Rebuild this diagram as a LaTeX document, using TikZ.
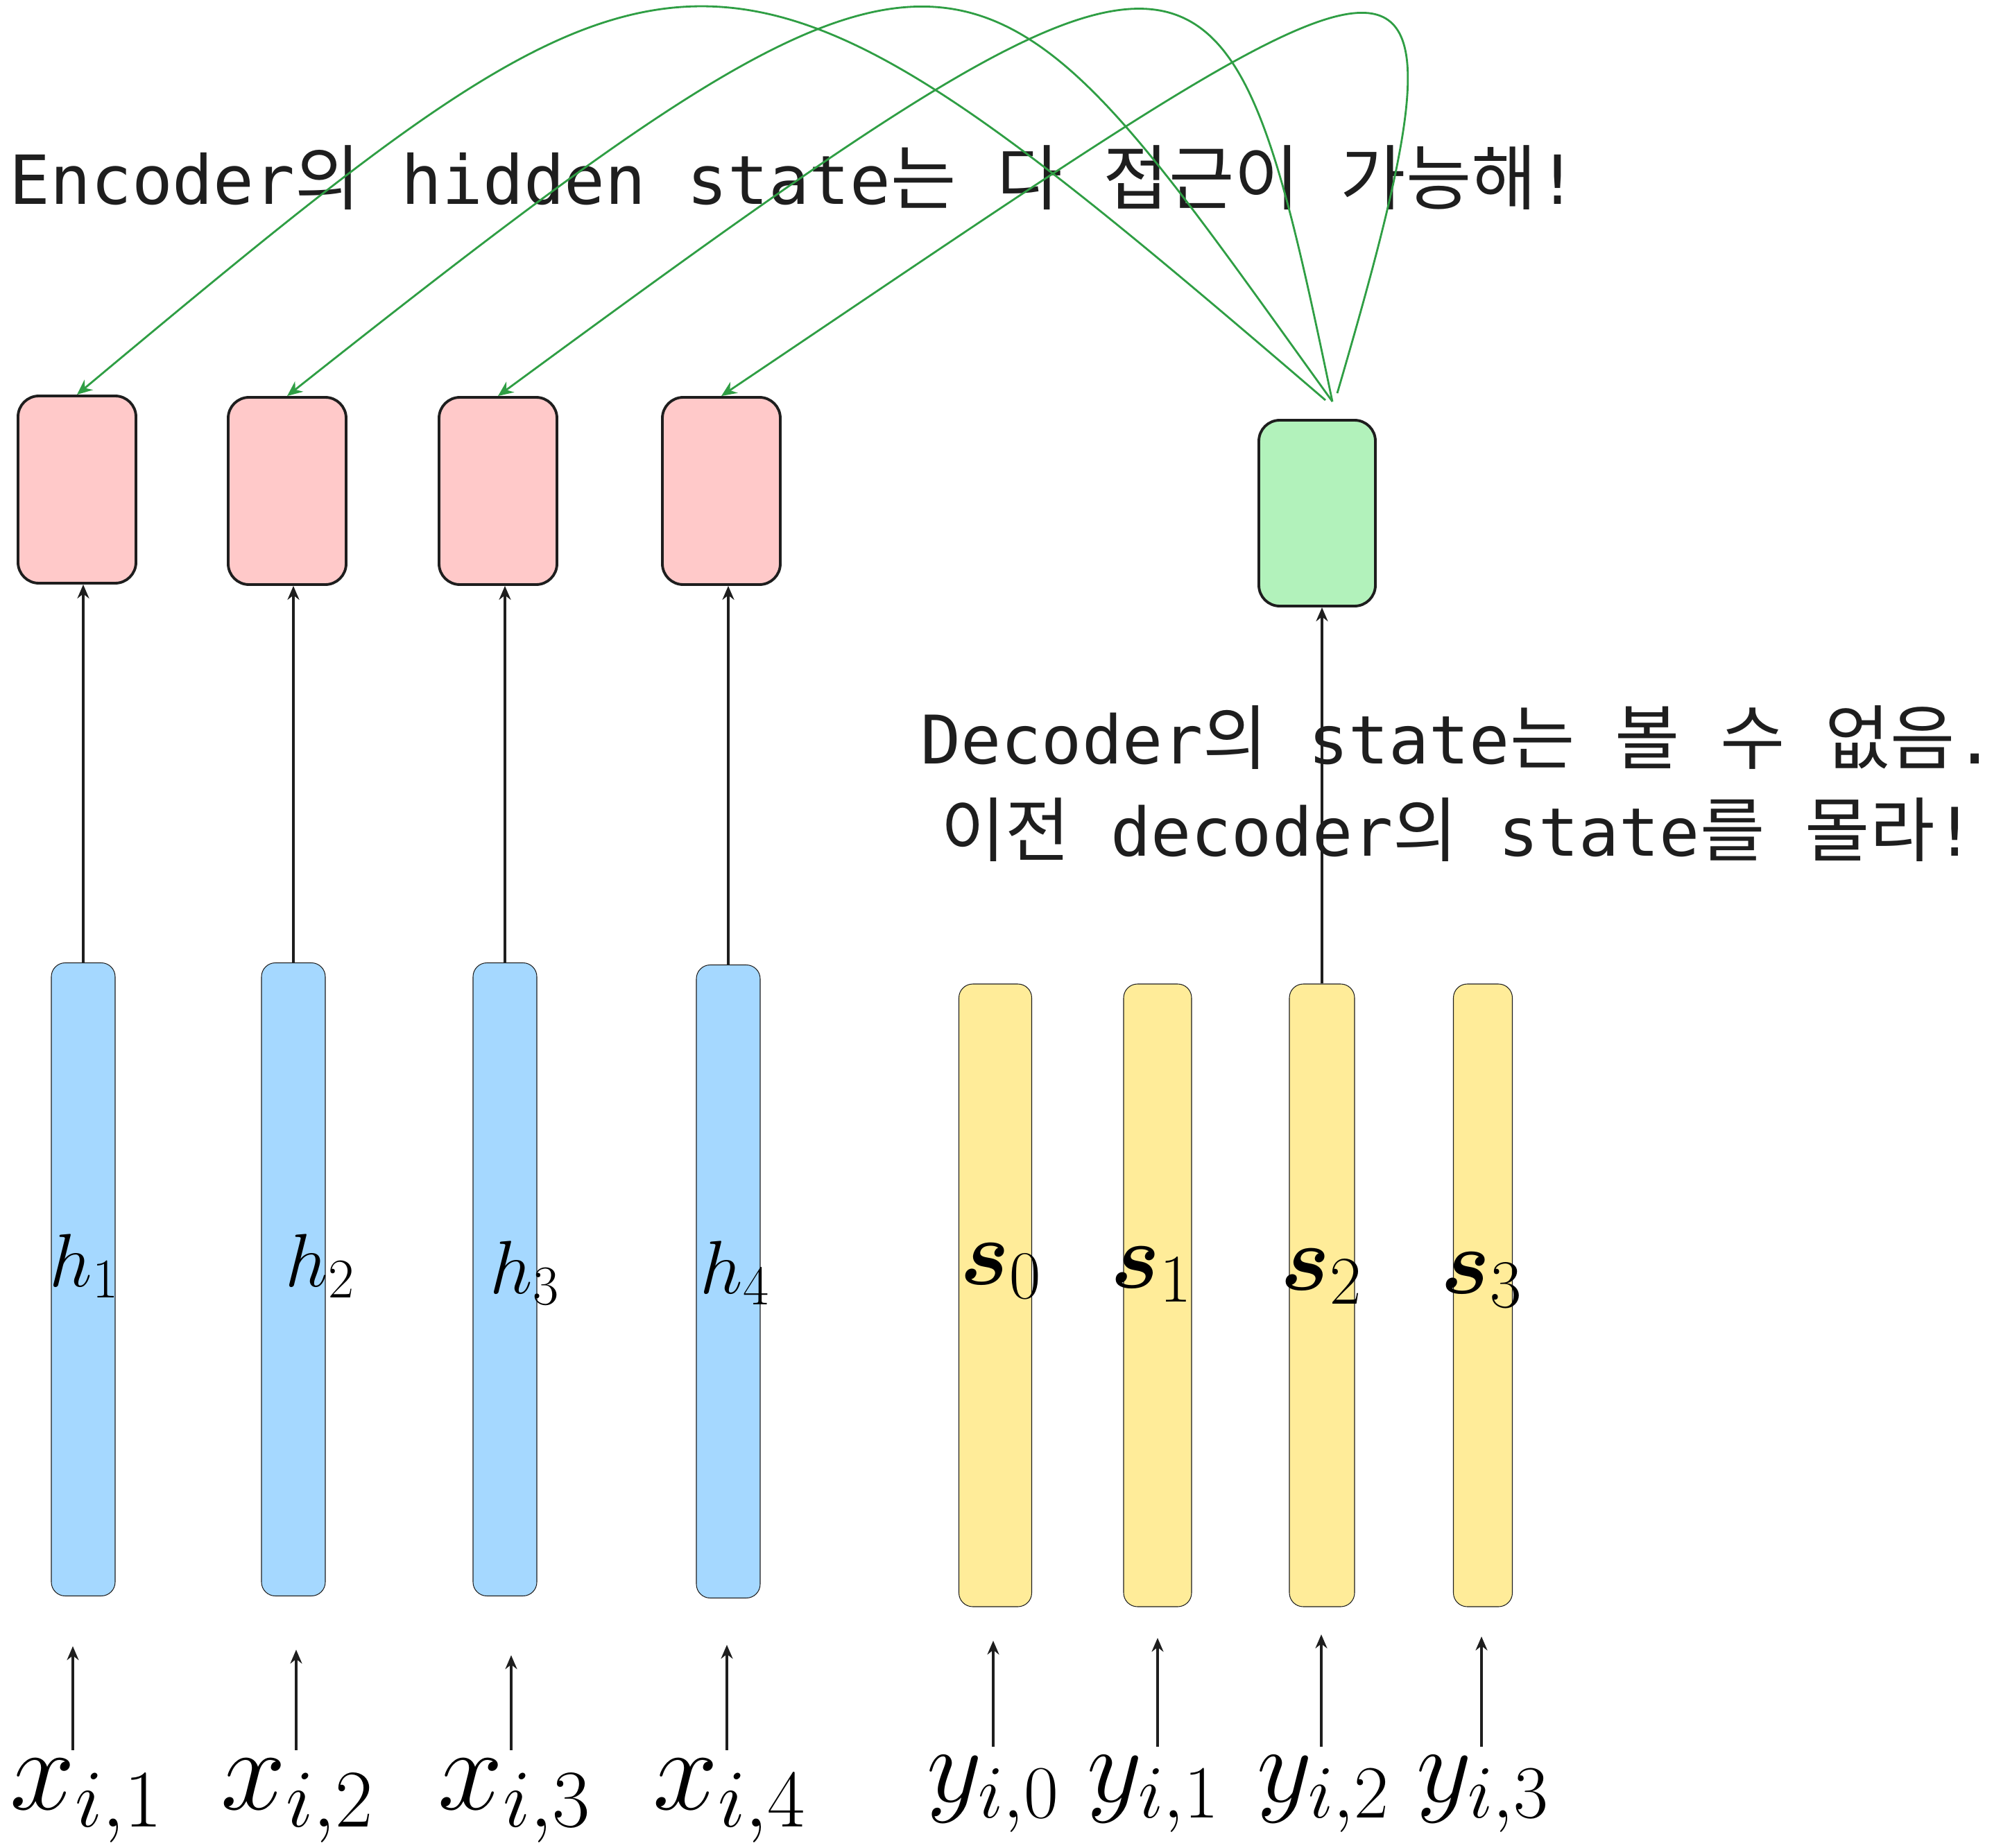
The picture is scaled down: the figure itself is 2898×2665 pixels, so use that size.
\RequirePackage{fix-cm}
\documentclass[tikz,border=0pt]{standalone}
\usepackage{amsmath,bm}
\usepackage{fontspec}
\newfontfamily\monofont{DejaVu Sans Mono}
\newfontfamily\kofont[Scale=1.05]{Noto Sans CJK KR}
\newcommand{\ko}[1]{{\kofont #1}}
\DeclareMathSizes{31}{31}{23}{17}
\DeclareMathSizes{38}{38}{28}{20}
\usepackage{tikz}
\usetikzlibrary{arrows.meta,positioning,calc}
\definecolor{ink}{HTML}{1E1E1E}
\definecolor{encred}{HTML}{FFC9C9}
\definecolor{decgreen}{HTML}{B2F2BB}
\definecolor{hblue}{HTML}{A5D8FF}
\definecolor{syellow}{HTML}{FFEC99}
\definecolor{attngreen}{HTML}{2F9E44}
\tikzset{
  encbox/.style={rectangle, rounded corners=3mm, draw=ink, fill=encred, line width=1.1pt,
                 minimum width=17mm, minimum height=27mm, inner sep=0pt},
  decbox/.style={encbox, fill=decgreen},
  hbar/.style={rectangle, rounded corners=2mm, draw=ink, line width=0.3pt, fill=hblue,
               minimum width=9.2mm, minimum height=91.3mm, inner sep=0pt},
  sbar/.style={hbar, fill=syellow, minimum height=89.8mm},
  hlbl/.style={inner sep=0pt, anchor=base, font=\fontsize{31}{31}\selectfont},
  slbl/.style={inner sep=0pt, anchor=base, font=\fontsize{38}{38}\selectfont},
  inlbl/.style={inner sep=1.2mm, anchor=base, font=\fontsize{44}{44}\selectfont},
  note/.style={inner sep=0pt, text=ink, font=\monofont\fontsize{27.5}{37.7}\selectfont},
  flow/.style={-{Stealth[length=2mm,width=1.7mm]}, draw=ink, line width=0.9pt},
  attn/.style={-{Stealth[length=2.2mm,width=1.9mm]}, draw=attngreen, line width=0.8pt},
}
\begin{document}
\begin{tikzpicture}[x=0.1mm,y=-0.1mm]
\useasboundingbox (0,0) rectangle (2898,2665);
% encoder / decoder states on top
\node[encbox] (enc1) at (111,706) {};
\node[encbox] (enc2) at (414,708) {};
\node[encbox] (enc3) at (718,708) {};
\node[encbox] (enc4) at (1040,708) {};
\node[decbox, minimum width=16.8mm, minimum height=26.8mm] (dec) at (1899,740) {};
% hidden state bars
\node[hbar] (h1) at (120,1845) {};
\node[hbar] (h2) at (423,1845) {};
\node[hbar] (h3) at (728,1845) {};
\node[hbar] (h4) at (1050,1848) {};
\node[sbar, minimum width=10.5mm] (s0) at (1435,1868) {};
\node[sbar, minimum width=9.8mm]  (s1) at (1669,1868) {};
\node[sbar, minimum width=9.4mm]  (s2) at (1906,1868) {};
\node[sbar, minimum width=8.5mm]  (s3) at (2138,1868) {};
\node[hlbl] (lh1) at (122,1855) {$h_1$};
\node[hlbl] (lh2) at (462,1855) {$h_2$};
\node[hlbl] (lh3) at (757,1865) {$h_3$};
\node[hlbl] (lh4) at (1060,1865) {$h_4$};
\node[slbl] (ls0) at (1443,1852) {$\bm{s}_0$};
\node[slbl] (ls1) at (1660,1857) {$\bm{s}_1$};
\node[slbl] (ls2) at (1905,1860) {$\bm{s}_2$};
\node[slbl] (ls3) at (2136,1865) {$\bm{s}_3$};
% inputs
\node[inlbl, font=\fontsize{48}{48}\selectfont] (lx1) at (125,2609)  {$x_{i,1}$};
\node[inlbl, font=\fontsize{48}{48}\selectfont] (lx2) at (429,2609)  {$x_{i,2}$};
\node[inlbl, font=\fontsize{48}{48}\selectfont] (lx3) at (742,2609)  {$x_{i,3}$};
\node[inlbl, font=\fontsize{48}{48}\selectfont] (lx4) at (1052,2609) {$x_{i,4}$};
\node[inlbl] (ly0) at (1432,2598) {$y_{i,0}$};
\node[inlbl] (ly1) at (1663,2598) {$y_{i,1}$};
\node[inlbl] (ly2) at (1908,2598) {$y_{i,2}$};
\node[inlbl] (ly3) at (2138,2598) {$y_{i,3}$};
\coordinate (tx1) at (105,2374);  \coordinate (tx2) at (427,2379);
\coordinate (tx3) at (737,2387);  \coordinate (tx4) at (1048,2372);
\coordinate (ty0) at (1432,2366); \coordinate (ty1) at (1669,2362);
\coordinate (ty2) at (1905,2357); \coordinate (ty3) at (2136,2360);
\draw[flow] (tx1 |- lx1.north) -- (tx1); \draw[flow] (tx2 |- lx2.north) -- (tx2);
\draw[flow] (tx3 |- lx3.north) -- (tx3); \draw[flow] (tx4 |- lx4.north) -- (tx4);
\draw[flow] (ty0 |- ly0.north) -- (ty0); \draw[flow] (ty1 |- ly1.north) -- (ty1);
\draw[flow] (ty2 |- ly2.north) -- (ty2); \draw[flow] (ty3 |- ly3.north) -- (ty3);
% notes
\node[note, font=\monofont\fontsize{27.8}{37.7}\selectfont, anchor=base west] (encnote) at (13,294) {Encoder\ko{의} hidden state\ko{는} \ko{다} \ko{접근이} \ko{가능해}!};
\node[note, align=center] (decnote) at (2102,1130) {Decoder\ko{의} state\ko{는} \ko{볼} \ko{수} \ko{없음}.\\\ko{이전} decoder\ko{의} state\ko{를} \ko{몰라}!};
% bars to states
\draw[flow] (h1.north) -- (h1.north |- enc1.south);
\draw[flow] (h2.north) -- (h2.north |- enc2.south);
\draw[flow] (h3.north) -- (h3.north |- enc3.south);
\draw[flow] (h4.north) -- (h4.north |- enc4.south);
\draw[flow] (s2.north) -- (s2.north |- dec.south);
% attention arcs
\draw[attn] ($(dec.north)+(12,-27)$) .. controls (1024,-184) and (998,-171) .. (enc1.north);
\draw[attn] ($(dec.north)+(22,-25)$) .. controls (1403,-139) and (1406,-215) .. (enc2.north);
\draw[attn] ($(dec.north)+(22,-25)$) .. controls (1766,-163) and (1745,-184) .. (enc3.north);
\draw[attn] ($(dec.north)+(29,-37)$) .. controls (2157,-215) and (2054,-111) .. (enc4.north);
\end{tikzpicture}
\end{document}
